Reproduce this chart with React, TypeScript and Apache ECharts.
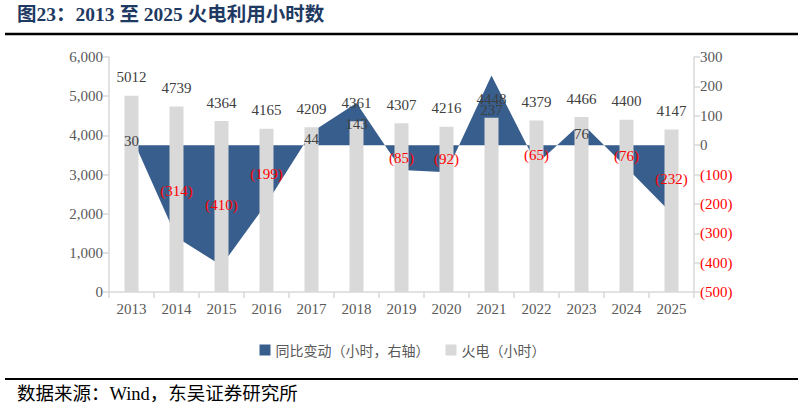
import React, { useEffect, useRef } from "react";
import * as echarts from "echarts";

const years = ["2013", "2014", "2015", "2016", "2017", "2018", "2019", "2020", "2021", "2022", "2023", "2024", "2025"];
const hours = [5012, 4739, 4364, 4165, 4209, 4361, 4307, 4216, 4448, 4379, 4466, 4400, 4147];
const yoy = [30, -314, -410, -199, 44, 143, -85, -92, 237, -65, 76, -76, -232];

const BLUE = "#385E8D";
const GRAY = "#D9D9D9";
const SERIF = "'Liberation Serif','Times New Roman','Noto Sans CJK SC',serif";
const CJK = "'Noto Sans CJK SC',sans-serif";

const fmtYoy = (v: number) => (v < 0 ? `(${-v})` : `${v}`);

export default function App() {
  const ref = useRef<HTMLDivElement>(null);
  useEffect(() => {
    if (!ref.current) return;
    const chart = echarts.init(ref.current, null, { renderer: "svg" });
    chart.setOption({
      animation: false,
      backgroundColor: "#fff",
      grid: { left: 109, right: 111, top: 57, bottom: 121 },
      legend: {
        left: "center",
        top: 338,
        itemWidth: 11,
        itemHeight: 11,
        itemGap: 16,
        icon: "rect",
        data: ["同比变动（小时，右轴）", "火电（小时）"],
        textStyle: { color: "#595959", fontSize: 14, fontFamily: CJK },
      },
      xAxis: {
        type: "category",
        data: years,
        boundaryGap: true,
        axisLine: { lineStyle: { color: GRAY, width: 1.5 } },
        axisTick: { show: true, length: 6, lineStyle: { color: GRAY, width: 1.5 } },
        axisLabel: { color: "#595959", fontSize: 15, fontFamily: SERIF, margin: 9 },
      },
      yAxis: [
        {
          type: "value",
          min: 0,
          max: 6000,
          interval: 1000,
          position: "left",
          axisLine: { show: true, lineStyle: { color: GRAY, width: 1.5 } },
          axisTick: { show: true, length: 6, lineStyle: { color: GRAY, width: 1.5 } },
          splitLine: { show: false },
          axisLabel: {
            color: "#595959",
            fontSize: 15,
            fontFamily: SERIF,
            margin: 6,
            formatter: (v: number) => v.toLocaleString("en-US"),
          },
        },
        {
          type: "value",
          min: -500,
          max: 300,
          interval: 100,
          position: "right",
          axisLine: { show: true, lineStyle: { color: GRAY, width: 1.5 } },
          axisTick: { show: true, length: 6, lineStyle: { color: GRAY, width: 1.5 } },
          splitLine: { show: false },
          axisLabel: {
            fontSize: 15,
            fontFamily: SERIF,
            margin: 6,
            formatter: (v: number) => fmtYoy(v),
            color: (v: any) => (Number(v) < 0 ? "#FF0000" : "#595959"),
          },
        },
      ],
      series: [
        {
          name: "同比变动（小时，右轴）",
          type: "line",
          yAxisIndex: 1,
          data: yoy,
          symbol: "none",
          z: 1,
          itemStyle: { color: BLUE },
          lineStyle: { width: 0, color: BLUE },
          areaStyle: { color: BLUE, opacity: 1, origin: 0 },
        },
        {
          name: "火电（小时）",
          type: "bar",
          yAxisIndex: 0,
          data: hours,
          barWidth: 14,
          z: 2,
          itemStyle: { color: GRAY },
          label: {
            show: true,
            position: "top",
            distance: 11,
            color: "#404040",
            fontSize: 15,
            fontFamily: SERIF,
          },
        },
        {
          name: "labels",
          type: "custom",
          yAxisIndex: 1,
          z: 5,
          silent: true,
          data: yoy.map((v, i) => [i, v / 2, v]),
          renderItem: (params: any, api: any) => {
            const pt = api.coord([api.value(0), api.value(1)]);
            const v = api.value(2);
            return {
              type: "text",
              x: pt[0],
              y: pt[1],
              style: {
                text: fmtYoy(v),
                fill: v < 0 ? "#FF0000" : "#404040",
                font: `15px ${SERIF}`,
                align: "center",
                verticalAlign: "middle",
              },
            };
          },
        },
      ],
      graphic: [
        {
          type: "text",
          left: 17,
          top: 5,
          style: {
            text: "图23：2013 至 2025 火电利用小时数",
            fill: "#1F3A62",
            font: `bold 19.5px ${SERIF}`,
          },
        },
        {
          type: "line",
          shape: { x1: 5, y1: 34, x2: 798, y2: 34 },
          style: { stroke: "#000", lineWidth: 2.5 },
        },
        {
          type: "line",
          shape: { x1: 5, y1: 379, x2: 798, y2: 379 },
          style: { stroke: "#000", lineWidth: 2 },
        },
        {
          type: "text",
          left: 17,
          top: 385,
          style: {
            text: "数据来源：Wind，东吴证券研究所",
            fill: "#000",
            font: `18.5px ${SERIF}`,
          },
        },
      ],
    });
    return () => chart.dispose();
  }, []);
  return <div ref={ref} style={{ position: "fixed", left: 0, top: 0, width: 805, height: 413 }} />;
}
